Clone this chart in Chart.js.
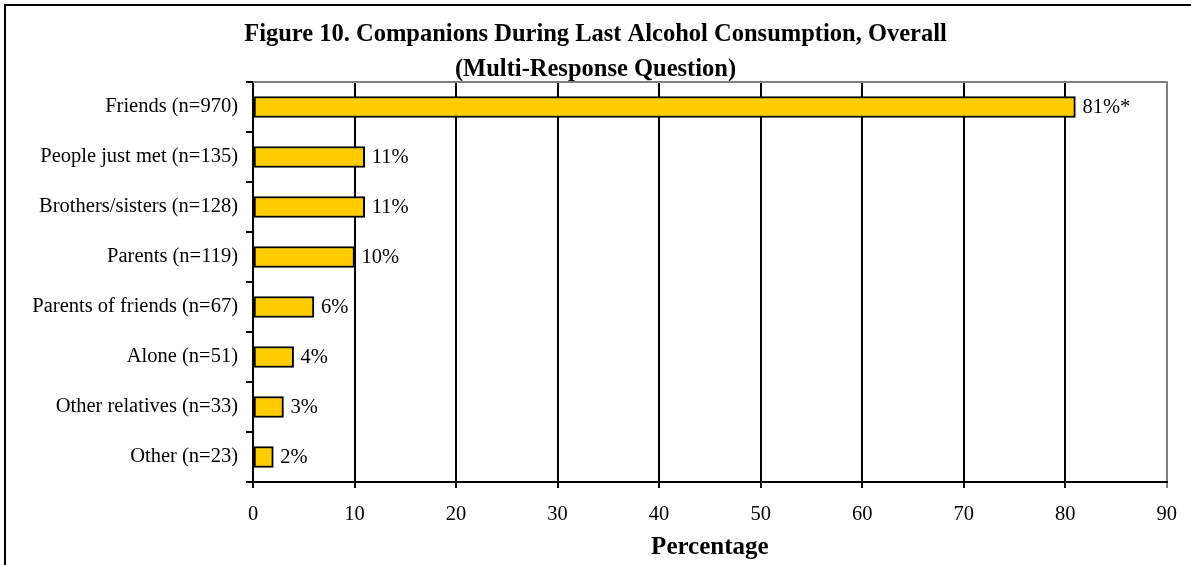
<!DOCTYPE html>
<html>
<head>
<meta charset="utf-8">
<style>
  body { margin: 0; background: #fff; }
  canvas { display: block; }
</style>
<script src="https://cdn.jsdelivr.net/npm/chart.js@4"></script>
</head>
<body>
<canvas id="barChart" width="1191" height="565"></canvas>
<script>
const categories = [
    'Friends (n=970)',
    'People just met (n=135)',
    'Brothers/sisters (n=128)',
    'Parents (n=119)',
    'Parents of friends (n=67)',
    'Alone (n=51)',
    'Other relatives (n=33)',
    'Other (n=23)'
];
const percentages = [81, 11, 11, 10, 6, 4, 3, 2];
const labelNotes = ['*', '', '', '', '', '', '', ''];

const serif = "'Liberation Serif', 'Times New Roman', serif";

// outer frame, gray top edge of the plot, and value labels
const decorations = {
    id: 'decorations',
    beforeDraw(chart) {
        const c = chart.ctx;
        c.save();
        c.fillStyle = '#fff';
        c.fillRect(0, 0, chart.width, chart.height);
        c.strokeStyle = '#000';
        c.lineWidth = 2;
        c.beginPath();
        c.moveTo(5, chart.height + 2);
        c.lineTo(5, 5);
        c.lineTo(chart.width + 2, 5);
        c.stroke();
        c.restore();
    },
    beforeDatasetsDraw(chart) {
        const a = chart.chartArea;
        const c = chart.ctx;
        c.save();
        c.strokeStyle = '#808080';
        c.lineWidth = 2;
        c.beginPath();
        c.moveTo(a.left, a.top);
        c.lineTo(a.right + 1, a.top);
        c.stroke();
        c.restore();
    },
    afterDatasetsDraw(chart) {
        const c = chart.ctx;
        const meta = chart.getDatasetMeta(0);
        c.save();
        c.font = '20.5px ' + serif;
        c.fillStyle = '#000';
        c.textBaseline = 'middle';
        c.textAlign = 'left';
        meta.data.forEach((bar, i) => {
            c.fillText(percentages[i] + '%' + labelNotes[i], bar.x + 7, bar.y + 1);
        });
        c.restore();
    }
};

new Chart(document.getElementById('barChart'), {
    type: 'bar',
    data: {
        labels: categories,
        datasets: [{
            data: percentages,
            backgroundColor: '#FFCC00',
            borderColor: '#000',
            borderWidth: 2,
            borderSkipped: false,
            barThickness: 21
        }]
    },
    options: {
        indexAxis: 'y',
        responsive: false,
        animation: false,
        layout: { padding: 0 },
        plugins: {
            legend: { display: false },
            tooltip: { enabled: false },
            title: {
                display: true,
                text: 'Figure 10. Companions During Last Alcohol Consumption, Overall',
                color: '#000',
                font: { family: serif, size: 24.5, weight: 'bold', lineHeight: 1.0 },
                padding: { top: 22, bottom: 0 }
            },
            subtitle: {
                display: true,
                text: '(Multi-Response Question)',
                color: '#000',
                font: { family: serif, size: 24.5, weight: 'bold', lineHeight: 1.0 },
                padding: { top: 11, bottom: 0 }
            }
        },
        scales: {
            x: {
                min: 0,
                max: 90,
                afterFit(scale) { scale.height = 83; },
                ticks: {
                    stepSize: 10,
                    color: '#000',
                    font: { family: serif, size: 20.5 },
                    padding: 14
                },
                grid: {
                    color: (ctx) => ctx.tick && ctx.tick.value === 90 ? '#808080' : '#000',
                    lineWidth: 2,
                    tickLength: 6
                },
                border: { color: '#000', width: 2 },
                title: {
                    display: true,
                    text: 'Percentage',
                    color: '#000',
                    font: { family: serif, size: 25, weight: 'bold', lineHeight: 1.1 },
                    padding: { top: 2, bottom: 4 }
                }
            },
            y: {
                afterFit(scale) { scale.width = 253; },
                ticks: {
                    color: '#000',
                    font: { family: serif, size: 20.5 },
                    padding: 8
                },
                grid: {
                    drawOnChartArea: false,
                    color: '#000',
                    lineWidth: 2,
                    tickLength: 7
                },
                border: { color: '#000', width: 2 }
            },
            // empty right-hand spacer so the title stays centred on the page
            ySpacer: {
                position: 'right',
                afterFit(scale) { scale.width = 24; },
                ticks: { display: false },
                grid: { display: false },
                border: { display: false }
            }
        }
    },
    plugins: [decorations]
});
</script>
</body>
</html>
